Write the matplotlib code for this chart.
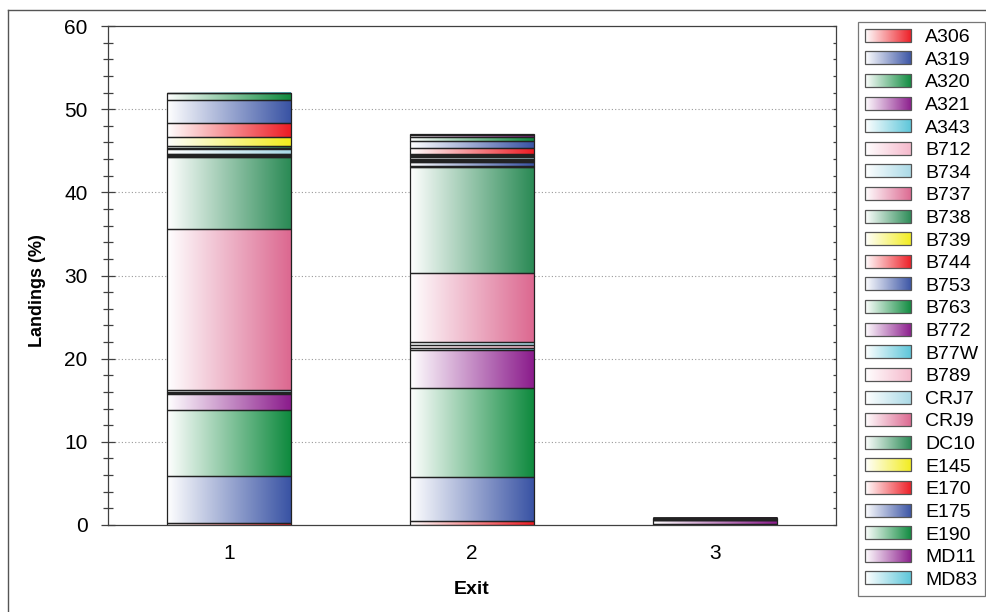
import numpy as np
import matplotlib
matplotlib.use("Agg")
import matplotlib.pyplot as plt
from matplotlib.patches import Patch, Rectangle
from matplotlib.legend_handler import HandlerBase
from matplotlib.image import BboxImage
from matplotlib.transforms import Bbox, TransformedBbox
from matplotlib.lines import Line2D
from matplotlib.colors import to_rgb

plt.rcParams['font.family'] = ['Liberation Sans', 'DejaVu Sans']

exits = ["1", "2", "3"]
aircraft = ["A306", "A319", "A320", "A321", "A343", "B712", "B734", "B737", "B738",
            "B739", "B744", "B753", "B763", "B772", "B77W", "B789", "CRJ7", "CRJ9",
            "DC10", "E145", "E170", "E175", "E190", "MD11", "MD83"]

exit1 = [0.25, 5.65, 7.9, 2.0, 0.1, 0.15, 0.15, 19.35, 8.7,
         0.05, 0.05, 0.05, 0.05, 0.05, 0.05, 0.05, 0.6, 0.15,
         0.2, 1.1, 1.65, 2.8, 0.8, 0.05, 0.05]
exit2 = [0.5, 5.3, 10.7, 4.6, 0.2, 0.4, 0.3, 8.26, 12.74,
         0.05, 0.15, 0.4, 0.1, 0.1, 0.1, 0.1, 0.3, 0.1,
         0.05, 0.15, 0.7, 0.9, 0.5, 0.2, 0.1]
exit3 = [0.0, 0.0, 0.1, 0.5, 0.0, 0.0, 0.0, 0.1, 0.1,
         0.0, 0.0, 0.0, 0.0, 0.0, 0.0, 0.0, 0.0, 0.0,
         0.0, 0.0, 0.0, 0.0, 0.05, 0.05, 0.0]

palette = ["#ED1C24", "#3953A4", "#0E8A3E", "#8B1C8C", "#5BC5D9",
           "#F5B8CB", "#A9D9E6", "#DC6890", "#2A8A55", "#F2EC1D"]
colors = [palette[i % len(palette)] for i in range(len(aircraft))]


def gradient(color, n=256):
    c = np.array(to_rgb(color))
    t = np.linspace(0, 1, n)[:, None]
    g = (1 - t) * np.ones(3) + t * c
    return g[None, :, :]


class GradHandler(HandlerBase):
    def create_artists(self, legend, orig_handle, xdescent, ydescent,
                       width, height, fontsize, trans):
        bb = Bbox.from_bounds(-xdescent, -ydescent, width, height)
        img = BboxImage(TransformedBbox(bb, trans), interpolation='bilinear')
        img.set_data(gradient(orig_handle.get_facecolor()))
        rect = Rectangle((-xdescent, -ydescent), width, height, facecolor='none',
                         edgecolor='#555555', lw=0.9, transform=trans)
        return [img, rect]


fig = plt.figure(figsize=(9.87, 6.12), dpi=100)
ax = fig.add_axes([108 / 987, 1 - 525 / 612, (836 - 108) / 987, (525 - 26) / 612])

data = np.array([exit1, exit2, exit3])
x = np.arange(1, len(exits) + 1)
bottoms = np.zeros(len(exits))
width = 0.51
for j, name in enumerate(aircraft):
    vals = data[:, j]
    bars = ax.bar(x, vals, width, bottom=bottoms, facecolor='none',
                  edgecolor='#222222', linewidth=0.9, zorder=3)
    for rect, v in zip(bars, vals):
        if v <= 0:
            continue
        x0, y0 = rect.get_x(), rect.get_y()
        ax.imshow(gradient(colors[j]), extent=(x0, x0 + rect.get_width(), y0, y0 + v),
                  aspect='auto', interpolation='bilinear', zorder=2)
    bottoms += vals

ax.set_xlim(0.5, 3.5)
ax.set_ylim(0, 60)
ax.set_xticks(x)
ax.set_xticklabels(exits)
ax.set_yticks(np.arange(0, 61, 10))
ax.set_yticks(np.arange(0, 61, 2), minor=True)
for yv in range(10, 60, 10):
    ax.axhline(yv, color='#999999', linestyle=(0, (1, 2)), linewidth=0.8, zorder=1)
ax.tick_params(axis='x', length=0, labelsize=15, pad=14)
ax.tick_params(axis='y', which='major', direction='inout', length=9.5, width=0.9,
               color='#404040', labelsize=15, pad=10, right=False)
ax.tick_params(axis='y', which='minor', direction='inout', length=7, width=0.9,
               color='#404040', right=False)
for s in ax.spines.values():
    s.set_color('#404040')
    s.set_linewidth(0.9)

ax2 = ax.twinx()
ax2.set_ylim(0, 60)
ax2.set_yticks(np.arange(0, 61, 10))
ax2.set_yticks(np.arange(0, 61, 2), minor=True)
ax2.tick_params(axis='y', which='both', direction='in', length=2.5, width=0.9,
                color='#404040', labelright=False)
for s in ax2.spines.values():
    s.set_visible(False)

ax.set_xlabel("Exit", fontsize=14, fontweight='bold', labelpad=13)
ax.set_ylabel("Landings (%)", fontsize=13, fontweight='bold')
ax.yaxis.set_label_coords(-0.085, 0.47)

handles = [Patch(facecolor=c, label=n) for n, c in zip(aircraft, colors)]
leg = fig.legend(handles=handles, loc='upper left', bbox_to_anchor=(858 / 987, 1 - 22 / 612),
                 handler_map={Patch: GradHandler()}, fontsize=14, frameon=True,
                 fancybox=False, edgecolor='#555555', borderaxespad=0,
                 handlelength=2.4, handleheight=0.65, handletextpad=0.7,
                 labelspacing=0.272, borderpad=0.35)
leg.get_frame().set_linewidth(0.9)

# outer frame
fig.add_artist(Line2D([8 / 987, 1.0], [1 - 10 / 612, 1 - 10 / 612], color='#555555', lw=1.0,
                      transform=fig.transFigure))
fig.add_artist(Line2D([8 / 987, 8 / 987], [1 - 10 / 612, 0.0], color='#555555', lw=1.0,
                      transform=fig.transFigure))

fig.savefig("out.png", dpi=100)
